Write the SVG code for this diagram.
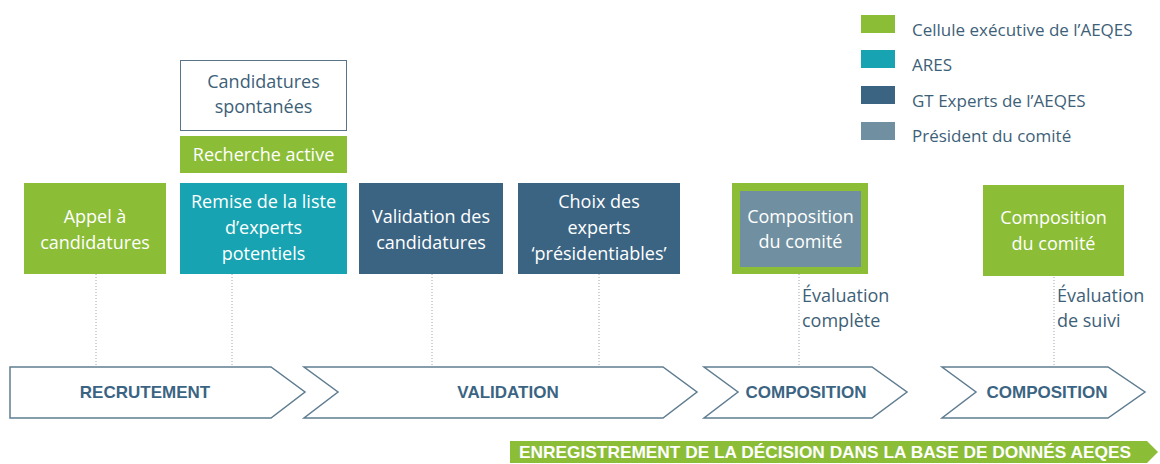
<svg xmlns="http://www.w3.org/2000/svg" width="1160" height="464" viewBox="0 0 1160 464">
<style>
.box{font-family:"Open Sans","Liberation Sans",sans-serif;font-size:18px;fill:#ffffff;text-anchor:middle}
.dark{font-family:"Open Sans","Liberation Sans",sans-serif;font-size:18px;fill:#3e5f78}
.leg{font-family:"Open Sans","Liberation Sans",sans-serif;font-size:17px;fill:#3e5f78}
.phase{font-family:"Liberation Sans",Arial,sans-serif;font-size:17px;font-weight:bold;fill:#3b6483;text-anchor:middle}
.chev{fill:#ffffff;stroke:#5f7d90;stroke-width:1.5;stroke-linejoin:miter}
.dot{stroke:#9aa6ae;stroke-width:1;stroke-dasharray:1 2;fill:none}
.g{fill:#8bbd37}.t{fill:#17a3b1}.b{fill:#3b6483}.p{fill:#708fa0}
</style>
<rect width="1160" height="464" fill="#ffffff"/>

<g id="legend">
<rect class="g" x="861" y="15" width="34" height="18"/>
<text class="leg" x="912" y="36">Cellule exécutive de l’AEQES</text>
<rect class="t" x="861" y="50" width="34" height="18"/>
<text class="leg" x="912" y="71">ARES</text>
<rect class="b" x="861" y="86" width="34" height="18"/>
<text class="leg" x="912" y="107">GT Experts de l’AEQES</text>
<rect class="p" x="861" y="122" width="34" height="18"/>
<text class="leg" x="912" y="142">Président du comité</text>
</g>

<g id="connectors">
<line class="dot" x1="96" y1="274" x2="96" y2="367"/>
<line class="dot" x1="232" y1="274" x2="232" y2="367"/>
<line class="dot" x1="432" y1="274" x2="432" y2="367"/>
<line class="dot" x1="599" y1="274" x2="599" y2="367"/>
<line class="dot" x1="799" y1="274" x2="799" y2="367"/>
<line class="dot" x1="1054" y1="277" x2="1054" y2="367"/>
</g>

<g id="spontanees">
<rect x="180.5" y="60.5" width="166" height="70" fill="#ffffff" stroke="#5a7488" stroke-width="1"/>
<text class="dark" x="263.5" y="88" text-anchor="middle">Candidatures</text>
<text class="dark" x="263.5" y="113" text-anchor="middle">spontanées</text>
</g>

<g id="recherche">
<rect class="g" x="180" y="136" width="167" height="37"/>
<text class="box" x="263.5" y="161">Recherche active</text>
</g>

<g id="appel">
<rect class="g" x="24" y="183" width="142" height="91"/>
<text class="box" x="95" y="223">Appel à</text>
<text class="box" x="95" y="249">candidatures</text>
</g>

<g id="remise">
<rect class="t" x="180" y="183" width="167" height="91"/>
<text class="box" x="263.5" y="208">Remise de la liste</text>
<text class="box" x="263.5" y="234">d’experts</text>
<text class="box" x="263.5" y="260">potentiels</text>
</g>

<g id="validation-box">
<rect class="b" x="359" y="183" width="144" height="91"/>
<text class="box" x="431" y="223">Validation des</text>
<text class="box" x="431" y="249">candidatures</text>
</g>

<g id="choix">
<rect class="b" x="518" y="183" width="162" height="91"/>
<text class="box" x="599" y="208">Choix des</text>
<text class="box" x="599" y="234">experts</text>
<text class="box" x="599" y="260">‘présidentiables’</text>
</g>

<g id="composition1">
<rect class="g" x="732" y="183" width="136" height="91"/>
<rect class="p" x="740" y="191" width="121" height="76"/>
<text class="box" x="800.5" y="223">Composition</text>
<text class="box" x="800.5" y="248">du comité</text>
</g>

<g id="composition2">
<rect class="g" x="983" y="185" width="141" height="91"/>
<text class="box" x="1053.5" y="224">Composition</text>
<text class="box" x="1053.5" y="250">du comité</text>
</g>

<g id="eval1">
<text class="dark" x="802" y="302">Évaluation</text>
<text class="dark" x="802" y="327">complète</text>
</g>
<g id="eval2">
<text class="dark" x="1057" y="302">Évaluation</text>
<text class="dark" x="1057" y="327">de suivi</text>
</g>

<g id="phase-recrutement">
<polygon class="chev" points="10,367 271,367 305,392 271,418 10,418"/>
<text class="phase" x="145" y="398">RECRUTEMENT</text>
</g>
<g id="phase-validation">
<polygon class="chev" points="304,367 663,367 697,392 663,418 304,418 338,392"/>
<text class="phase" x="508" y="398">VALIDATION</text>
</g>
<g id="phase-composition1">
<polygon class="chev" points="704,367 872,367 907,392 872,418 704,418 738,392"/>
<text class="phase" x="806" y="398">COMPOSITION</text>
</g>
<g id="phase-composition2">
<polygon class="chev" points="942,367 1108,367 1145,392 1108,418 942,418 976,392"/>
<text class="phase" x="1047" y="398">COMPOSITION</text>
</g>

<g id="enregistrement">
<polygon class="g" points="510,441 1147,441 1158,452 1147,463 510,463"/>
<text x="825" y="458" font-family="Liberation Sans, Arial, sans-serif" font-size="17" font-weight="bold" fill="#ffffff" text-anchor="middle" textLength="612" lengthAdjust="spacingAndGlyphs">ENREGISTREMENT DE LA DÉCISION DANS LA BASE DE DONNÉS AEQES</text>
</g>
</svg>
